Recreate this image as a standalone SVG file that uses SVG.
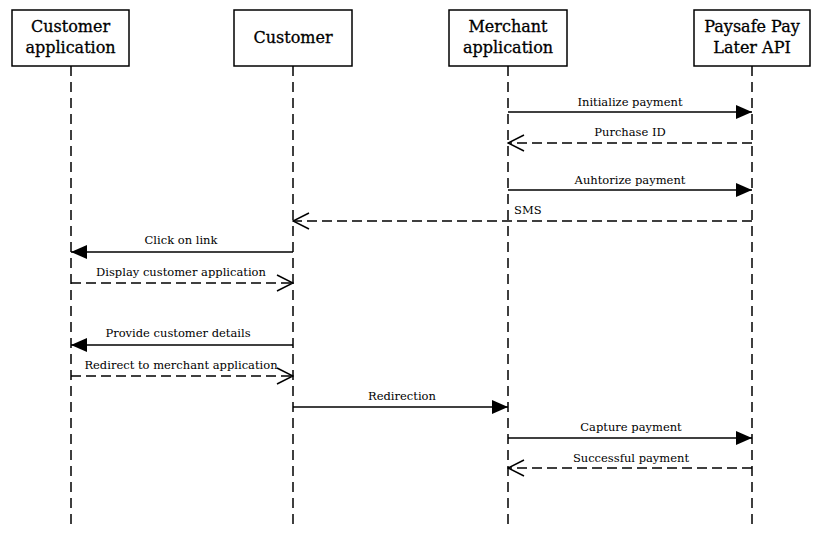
<svg xmlns="http://www.w3.org/2000/svg" width="820" height="535" viewBox="0 0 820 535">
<style>
.box{fill:#fff;stroke:#000;stroke-width:1.5}
.hd{font-family:"DejaVu Serif","Liberation Serif",serif;font-size:16px;text-anchor:middle;fill:#000;stroke:#000;stroke-width:0.3}
.life{stroke:#000;stroke-width:1.5;stroke-dasharray:10 6;fill:none}
.msg{stroke:#000;stroke-width:1.5;fill:none}
.dash{stroke-dasharray:10 5}
.lbl{font-family:"DejaVu Serif","Liberation Serif",serif;font-size:11.5px;text-anchor:middle;fill:#000}
</style>
<defs>
<marker id="filled" markerUnits="userSpaceOnUse" markerWidth="18" markerHeight="14" refX="16" refY="7" orient="auto">
<path d="M0,0 L16,7 L0,14 Z" fill="#000"/>
</marker>
<marker id="open" markerUnits="userSpaceOnUse" markerWidth="18" markerHeight="20" refX="17" refY="9" orient="auto">
<path d="M1,1 L17,9 L1,17" fill="none" stroke="#000" stroke-width="1.5"/>
</marker>
</defs>
<rect width="820" height="535" fill="#fff"/>
<g id="lifelines">
<line class="life" x1="71" y1="66" x2="71" y2="525"/>
<line class="life" x1="293" y1="66" x2="293" y2="525"/>
<line class="life" x1="508" y1="66" x2="508" y2="525"/>
<line class="life" x1="752" y1="66" x2="752" y2="525"/>
</g>
<g id="customer-application">
<rect class="box" x="12" y="10" width="117" height="56"/>
<text class="hd" x="70.5" y="32">Customer</text>
<text class="hd" x="70.5" y="53">application</text>
</g>
<g id="customer">
<rect class="box" x="234" y="10" width="118" height="56"/>
<text class="hd" x="293" y="43">Customer</text>
</g>
<g id="merchant-application">
<rect class="box" x="449" y="10" width="118" height="56"/>
<text class="hd" x="508" y="32">Merchant</text>
<text class="hd" x="508" y="53">application</text>
</g>
<g id="paysafe-api">
<rect class="box" x="694" y="10" width="116" height="56"/>
<text class="hd" x="752" y="32">Paysafe Pay</text>
<text class="hd" x="752" y="53">Later API</text>
</g>
<g id="connectors">
<line class="msg" x1="508" y1="112" x2="752" y2="112" marker-end="url(#filled)"/>
<text class="lbl" x="630" y="106">Initialize payment</text>
<line class="msg dash" x1="752" y1="143" x2="508" y2="143" marker-end="url(#open)"/>
<text class="lbl" x="630" y="136">Purchase ID</text>
<line class="msg" x1="508" y1="190" x2="752" y2="190" marker-end="url(#filled)"/>
<text class="lbl" x="630" y="184">Auhtorize payment</text>
<line class="msg dash" x1="752" y1="221" x2="293" y2="221" marker-end="url(#open)"/>
<text class="lbl" x="514" y="214" style="text-anchor:start">SMS</text>
<line class="msg" x1="293" y1="252" x2="71" y2="252" marker-end="url(#filled)"/>
<text class="lbl" x="181" y="244">Click on link</text>
<line class="msg dash" x1="71" y1="283" x2="293" y2="283" marker-end="url(#open)"/>
<text class="lbl" x="181" y="276">Display customer application</text>
<line class="msg" x1="293" y1="345" x2="71" y2="345" marker-end="url(#filled)"/>
<text class="lbl" x="178" y="337">Provide customer details</text>
<line class="msg dash" x1="71" y1="376" x2="293" y2="376" marker-end="url(#open)"/>
<text class="lbl" x="181" y="369">Redirect to merchant application</text>
<line class="msg" x1="293" y1="407" x2="508" y2="407" marker-end="url(#filled)"/>
<text class="lbl" x="402" y="400">Redirection</text>
<line class="msg" x1="508" y1="438" x2="752" y2="438" marker-end="url(#filled)"/>
<text class="lbl" x="631" y="431">Capture payment</text>
<line class="msg dash" x1="752" y1="468" x2="508" y2="468" marker-end="url(#open)"/>
<text class="lbl" x="631" y="462">Successful payment</text>
</g>
</svg>
